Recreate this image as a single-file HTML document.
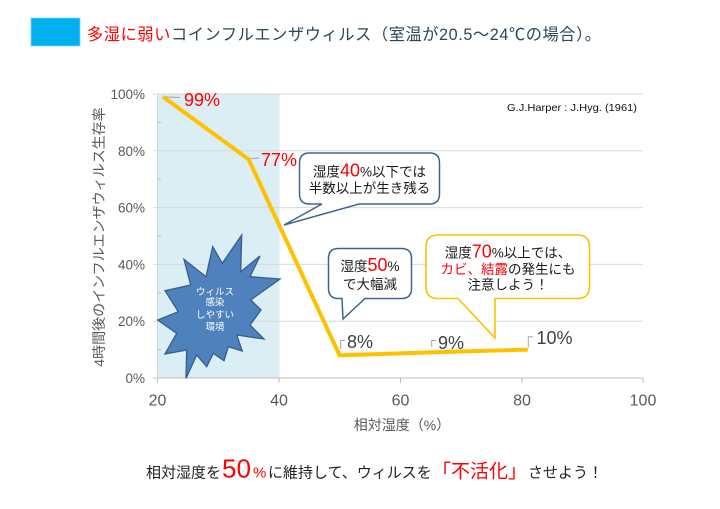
<!DOCTYPE html>
<html>
<head>
<meta charset="utf-8">
<style>
  html, body { margin: 0; padding: 0; background: #ffffff; }
  svg { display: block; }
  text { font-family: "Liberation Sans", "Noto Sans CJK JP", sans-serif; }
</style>
</head>
<body>
<svg width="720" height="509" viewBox="0 0 720 509" xmlns="http://www.w3.org/2000/svg">
  <rect x="0" y="0" width="720" height="509" fill="#ffffff"/>

  <!-- Title -->
  <rect x="31" y="18" width="49" height="28" fill="#00b0f0" stroke="#7fd7f7" stroke-width="0.8"/>
  <text x="87" y="40" font-size="16.2" letter-spacing="0.6"><tspan fill="#ff0000">多湿に弱い</tspan><tspan fill="#2b4756">コインフルエンザウィルス（室温が20.5〜24℃の場合）。</tspan></text>

  <!-- Shaded region 20-40 -->
  <rect x="157.5" y="94" width="122" height="284" fill="#daeef3"/>

  <!-- Gridlines -->
  <g stroke="#d9d9d9" stroke-width="1">
    <line x1="153" y1="94" x2="643" y2="94"/>
    <line x1="153" y1="150.8" x2="643" y2="150.8"/>
    <line x1="153" y1="207.6" x2="643" y2="207.6"/>
    <line x1="153" y1="264.4" x2="643" y2="264.4"/>
    <line x1="153" y1="321.2" x2="643" y2="321.2"/>
  </g>
  <!-- Axes -->
  <line x1="153" y1="378" x2="643" y2="378" stroke="#bfbfbf" stroke-width="1"/>
  <line x1="157.5" y1="94" x2="157.5" y2="378" stroke="#cfd8dc" stroke-width="1"/>
  <!-- minor y ticks -->
  <g stroke="#bfbfbf" stroke-width="1">
    <line x1="157.5" y1="122.4" x2="161" y2="122.4"/>
    <line x1="157.5" y1="179.2" x2="161" y2="179.2"/>
    <line x1="157.5" y1="236" x2="161" y2="236"/>
    <line x1="157.5" y1="292.8" x2="161" y2="292.8"/>
    <line x1="157.5" y1="349.6" x2="161" y2="349.6"/>
  </g>
  <!-- x ticks -->
  <g stroke="#bfbfbf" stroke-width="1">
    <line x1="157.5" y1="378" x2="157.5" y2="383"/>
    <line x1="279" y1="378" x2="279" y2="383"/>
    <line x1="400.5" y1="378" x2="400.5" y2="383"/>
    <line x1="522" y1="378" x2="522" y2="383"/>
    <line x1="643" y1="378" x2="643" y2="383"/>
  </g>

  <!-- Y tick labels -->
  <g font-size="13.5" fill="#595959" text-anchor="end">
    <text x="145" y="99">100%</text>
    <text x="145" y="155.8">80%</text>
    <text x="145" y="212.6">60%</text>
    <text x="145" y="269.4">40%</text>
    <text x="145" y="326.2">20%</text>
    <text x="145" y="383">0%</text>
  </g>
  <!-- X tick labels -->
  <g font-size="16" fill="#595959" text-anchor="middle">
    <text x="157.5" y="405.5">20</text>
    <text x="279" y="405.5">40</text>
    <text x="400.5" y="405.5">60</text>
    <text x="522" y="405.5">80</text>
    <text x="643" y="405.5">100</text>
  </g>
  <!-- Axis titles -->
  <text x="402" y="430" font-size="14" fill="#595959" text-anchor="middle">相対湿度（%）</text>
  <text transform="translate(104,237) rotate(-90)" font-size="14" fill="#595959" text-anchor="middle">4時間後のインフルエンザウィルス生存率</text>

  <!-- Source -->
  <text x="507" y="111" font-size="10.5" fill="#111111" textLength="130" lengthAdjust="spacingAndGlyphs">G.J.Harper : J.Hyg. (1961)</text>

  <!-- Starburst -->
  <polygon points="241.7,235 222.3,263.3 212.7,246.7 206,276.7 184,259.3 190.7,285 165,290.7 178.3,311.7 157.7,320 176.7,333.3 165,354 186.7,350 186,378.3 196.7,355 206.7,366.7 213.3,353.3 224,360.7 228.3,346.7 242.3,351 236.7,335 264,339 250,325 261,310 250.7,300 280,279 250,276.7 260,256 240.7,271.7" fill="#4f81bd" stroke="#385d8a" stroke-width="1.3" stroke-linejoin="miter"/>
  <g font-size="9.5" fill="#ffffff" text-anchor="middle">
    <text x="215" y="295">ウィルス</text>
    <text x="215" y="305.5">感染</text>
    <text x="215" y="318">しやすい</text>
    <text x="215" y="330">環境</text>
  </g>

  <!-- Data line -->
  <polyline points="163,96.8 248.6,159.3 339.6,355.3 430.7,352.4 527.8,349.6" fill="none" stroke="#ffc000" stroke-width="4" stroke-linejoin="miter"/>

  <!-- Leader lines -->
  <g stroke="#a6a6a6" stroke-width="1" fill="none">
    <polyline points="166,97 180,97.5"/>
    <polyline points="251,158.5 259,158"/>
    <polyline points="340.7,349 340.7,340.5 345,340.5"/>
    <polyline points="431.7,347 431.7,340.5 436,340.5"/>
    <polyline points="528.3,347.5 528.3,336.7 533,336.7"/>
  </g>

  <!-- Data labels -->
  <g font-size="18">
    <text x="184" y="105.8" fill="#ff0000">99%</text>
    <text x="261" y="165.8" fill="#ff0000">77%</text>
    <text x="347" y="348.2" fill="#404040">8%</text>
    <text x="438" y="349.2" fill="#404040">9%</text>
    <text x="536.5" y="343.8" fill="#404040">10%</text>
  </g>

  <!-- Callout 1 -->
  <path d="M309.5,153 H429.5 Q439.5,153 439.5,163 V194 Q439.5,204 429.5,204 H359 L284,225 L322,204 H309.5 Q299.5,204 299.5,194 V163 Q299.5,153 309.5,153 Z" fill="#ffffff" stroke="#41648f" stroke-width="1.5"/>
  <text x="369.5" y="176.5" font-size="13.5" fill="#1a1a1a" text-anchor="middle">湿度<tspan fill="#ff0000" font-size="18">40</tspan><tspan font-size="13.5">%</tspan>以下では</text>
  <text x="369.5" y="193" font-size="13.5" fill="#1a1a1a" text-anchor="middle">半数以上が生き残る</text>

  <!-- Callout 2 -->
  <path d="M338.5,248.5 H401.5 Q411.5,248.5 411.5,258.5 V288.5 Q411.5,298.5 401.5,298.5 H365 L343,319 L342,298.5 H338.5 Q328.5,298.5 328.5,288.5 V258.5 Q328.5,248.5 338.5,248.5 Z" fill="#ffffff" stroke="#41648f" stroke-width="1.5"/>
  <text x="370" y="271" font-size="13.5" fill="#1a1a1a" text-anchor="middle">湿度<tspan fill="#ff0000" font-size="18">50</tspan><tspan font-size="13.5">%</tspan></text>
  <text x="370" y="289" font-size="13.5" fill="#1a1a1a" text-anchor="middle">で大幅減</text>

  <!-- Callout 3 -->
  <path d="M438,235 H577.5 Q589.5,235 589.5,247 V286.5 Q589.5,298.5 577.5,298.5 H495 L495,338 L458,298.5 H438 Q426,298.5 426,286.5 V247 Q426,235 438,235 Z" fill="#ffffff" stroke="#ffc000" stroke-width="1.6"/>
  <text x="508" y="257.5" font-size="13.5" fill="#1a1a1a" text-anchor="middle">湿度<tspan fill="#ff0000" font-size="18">70</tspan><tspan font-size="13.5">%</tspan>以上では、</text>
  <text x="508" y="274" font-size="13.5" fill="#1a1a1a" text-anchor="middle"><tspan fill="#ff0000">カビ、結露</tspan>の発生にも</text>
  <text x="508" y="289.5" font-size="13.5" fill="#1a1a1a" text-anchor="middle">注意しよう！</text>

  <!-- Bottom message -->
  <text y="477.5" font-size="15" fill="#222222"><tspan x="146">相対湿度を</tspan><tspan x="222" font-size="26" fill="#ff0000">50</tspan><tspan x="253" font-size="15" fill="#ff0000">%</tspan><tspan x="268">に維持して、ウィルスを</tspan><tspan x="432" font-size="19" fill="#ff0000">「不活化」</tspan><tspan x="528">させよう！</tspan></text>
</svg>
</body>
</html>
